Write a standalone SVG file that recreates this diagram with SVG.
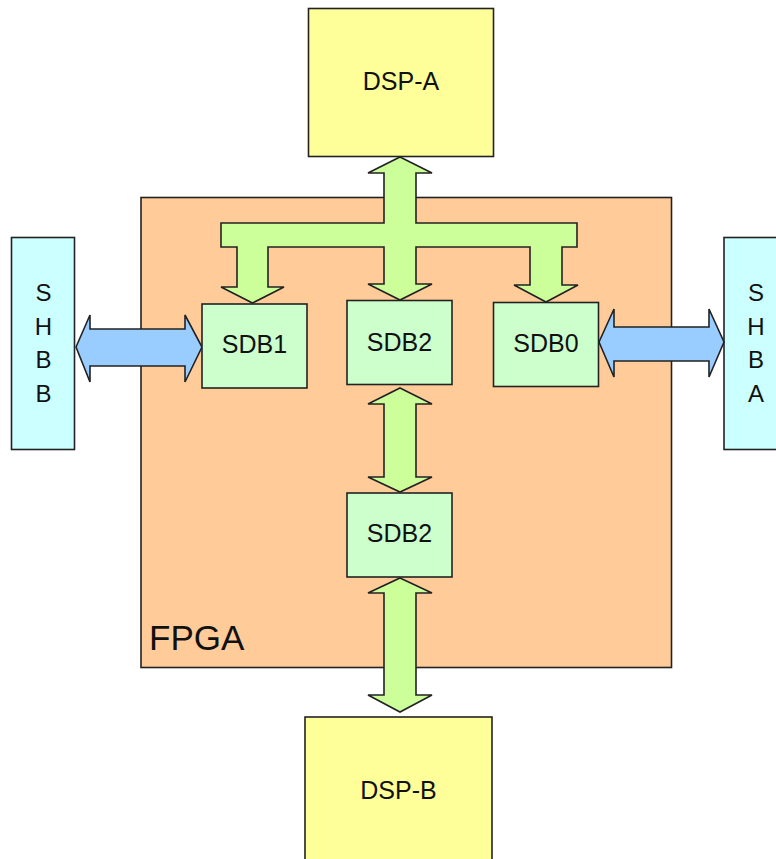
<svg xmlns="http://www.w3.org/2000/svg" width="776" height="859" viewBox="0 0 776 859">
<style>
.box{stroke:#222;stroke-width:1.6}
.dsp{fill:#FFFF99}
.sdb{fill:#CCFFCC}
.shb{fill:#CCFFFF}
.fpga{fill:#FFCC99}
.g{fill:#CCFF99;stroke:#222;stroke-width:1.6;stroke-linejoin:miter}
.b{fill:#99CCFF;stroke:#222;stroke-width:1.6;stroke-linejoin:miter}
text{font-family:"Liberation Sans",Arial,sans-serif;fill:#111}
.lbl{font-size:25px;text-anchor:middle}
.v{font-size:24px;text-anchor:middle}
</style>
<rect width="776" height="859" fill="#fff"/>
<g id="FPGA">
<rect class="box fpga" x="141" y="197.5" width="530.5" height="470"/>
<text x="149" y="650" style="font-size:35px">FPGA</text>
</g>
<g id="DSP-A">
<rect class="box dsp" x="308.5" y="8.5" width="185" height="148"/>
<text class="lbl" x="401" y="90">DSP-A</text>
</g>
<g id="DSP-B">
<rect class="box dsp" x="305" y="717" width="187" height="160"/>
<text class="lbl" x="398.5" y="799">DSP-B</text>
</g>
<g id="SHBB">
<rect class="box shb" x="11.5" y="237.5" width="63" height="212"/>
<text class="v" x="43.5" y="301">S</text>
<text class="v" x="43.5" y="334.5">H</text>
<text class="v" x="43.5" y="368">B</text>
<text class="v" x="43.5" y="401.5">B</text>
</g>
<g id="SHBA">
<rect class="box shb" x="724" y="237.5" width="60" height="212"/>
<text class="v" x="756" y="301">S</text>
<text class="v" x="756" y="334.5">H</text>
<text class="v" x="756" y="368">B</text>
<text class="v" x="756" y="401.5">A</text>
</g>
<g id="connectors">
<polygon class="g" points="400,157 432,173 416,173 416,223 577,223 577,247 562,247 562,285 578,285 546,302 514,285 530,285 530,247 416,247 416,284 432,284 400,300 368,284 384,284 384,247 268,247 268,287 284,287 252.5,303 221,287 237,287 237,247 221,247 221,223 384,223 384,173 368,173"/>
<polygon class="g" points="400,388 432,404 416,404 416,477 432,477 400,492 368,477 384,477 384,404 368,404"/>
<polygon class="g" points="400,578 432,593 416,593 416,695 432,695 400,712 368,695 384,695 384,593 368,593"/>
<polygon class="b" points="76,347 90,315 90,329 185,329 185,315 202,347 185,382 185,366 90,366 90,382"/>
<polygon class="b" points="599,342 614,309 614,327 709,327 709,309 724,342 709,377 709,361 614,361 614,377"/>
</g>
<g id="SDB1">
<rect class="box sdb" x="202" y="304" width="105" height="84"/>
<text class="lbl" x="254.5" y="353">SDB1</text>
</g>
<g id="SDB2-top">
<rect class="box sdb" x="347" y="300.5" width="105" height="84"/>
<text class="lbl" x="399.5" y="350.5">SDB2</text>
</g>
<g id="SDB0">
<rect class="box sdb" x="493.5" y="302.5" width="105" height="84"/>
<text class="lbl" x="546" y="351.5">SDB0</text>
</g>
<g id="SDB2-bottom">
<rect class="box sdb" x="347" y="493" width="105" height="84"/>
<text class="lbl" x="399.5" y="542">SDB2</text>
</g>
</svg>
